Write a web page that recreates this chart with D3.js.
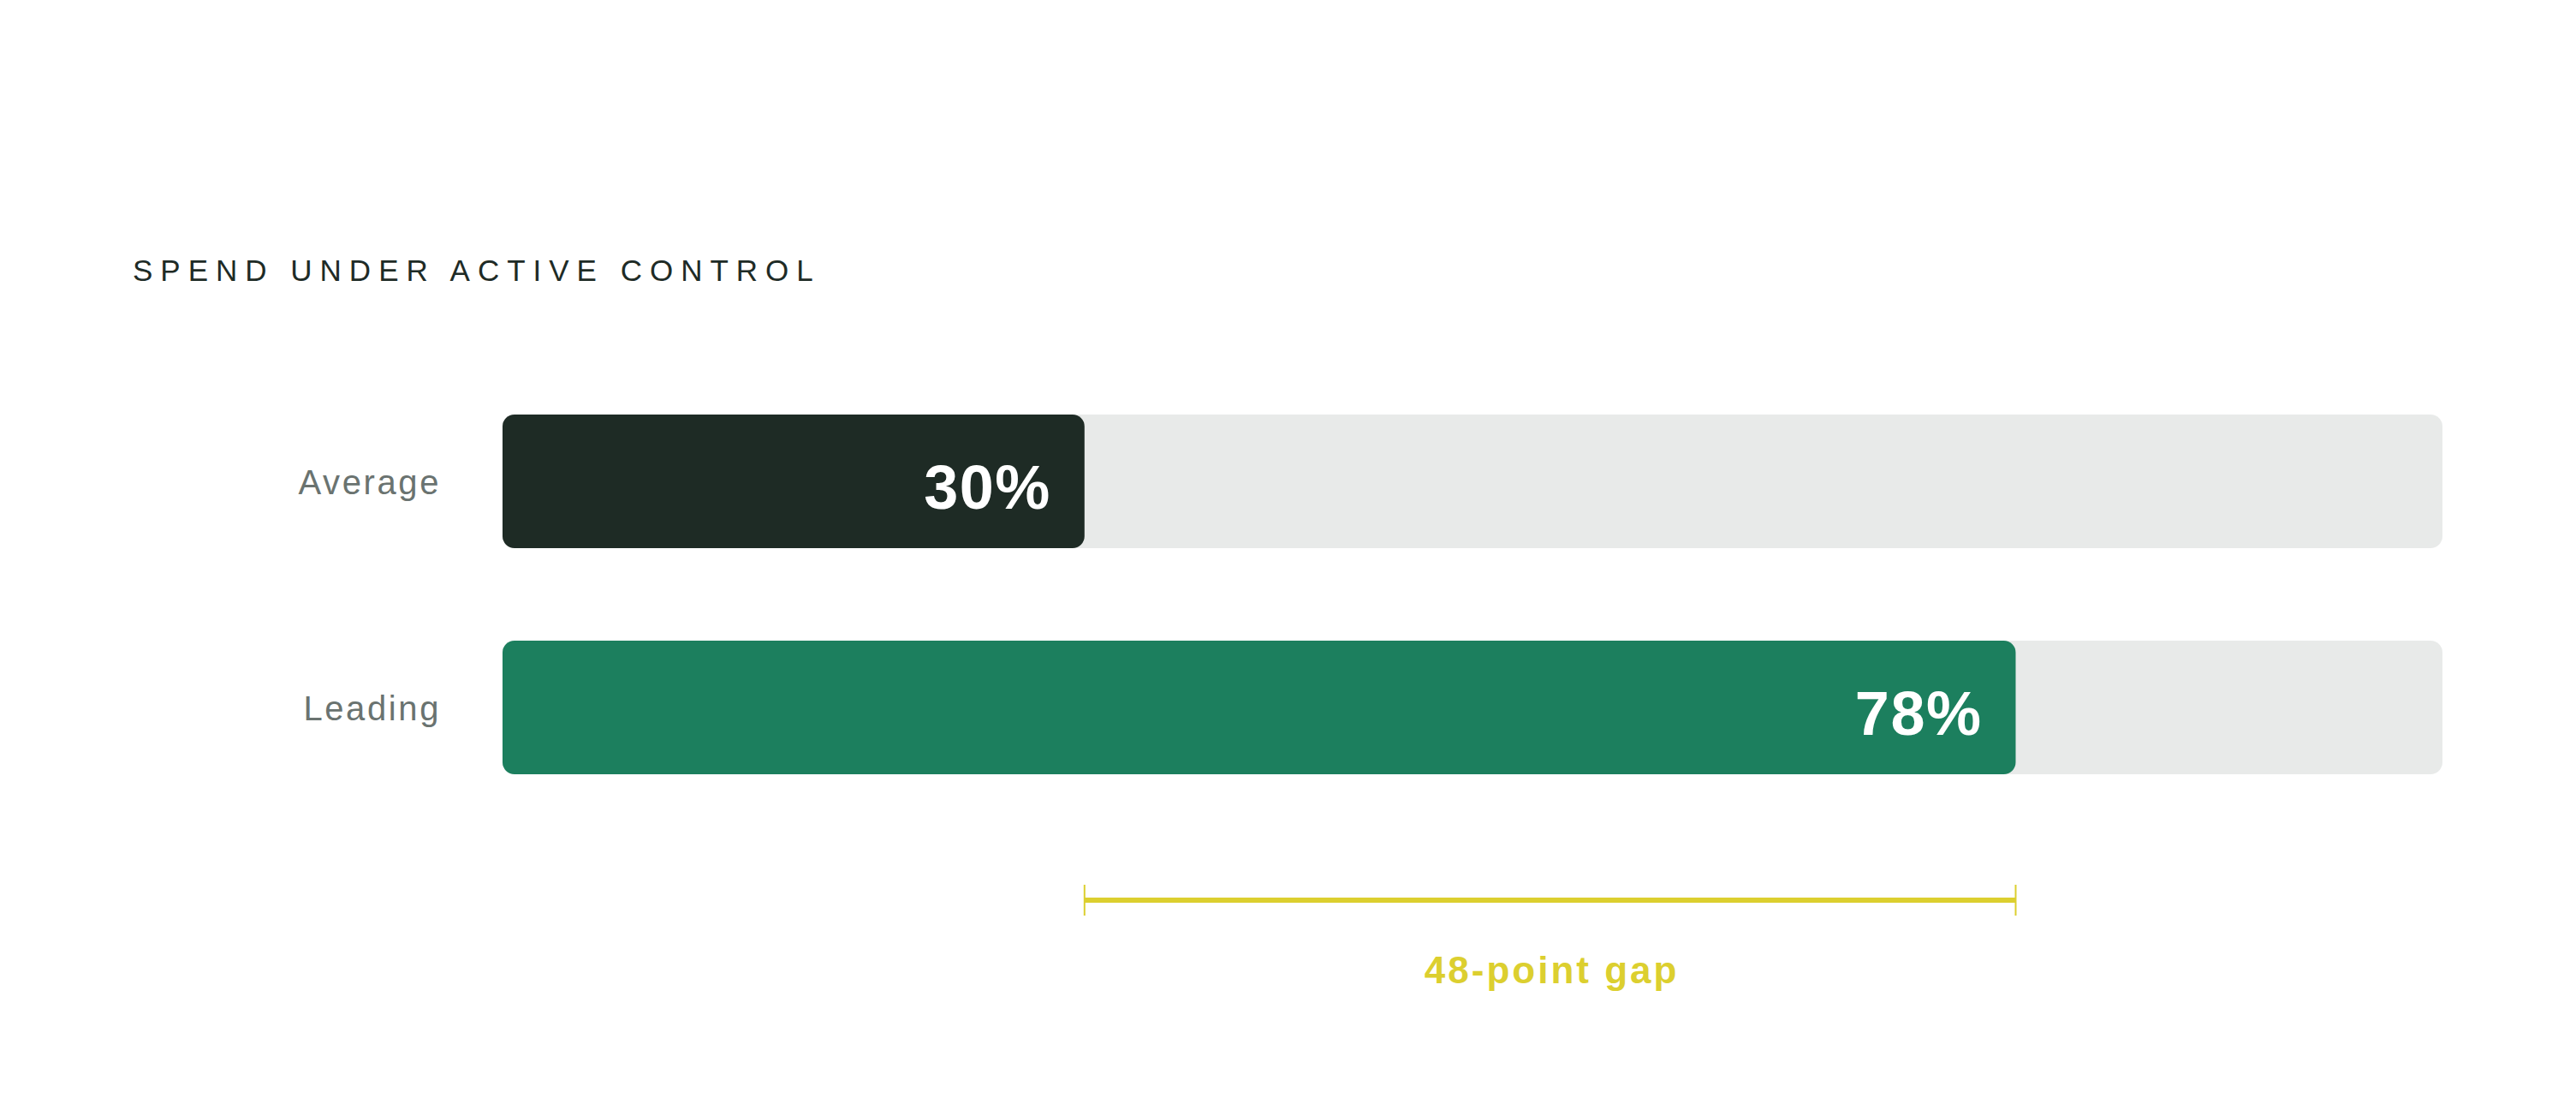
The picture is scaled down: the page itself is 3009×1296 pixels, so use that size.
<!DOCTYPE html>
<html>
<head>
<meta charset="utf-8">
<script src="https://cdn.jsdelivr.net/npm/d3@7"></script>
<style>
  html, body { margin: 0; padding: 0; background: #ffffff; }
  svg { display: block; font-family: "Liberation Sans", Arial, sans-serif; }
</style>
</head>
<body>
<div id="chart"></div>
<script>
// data
var categories = ["Average", "Leading"];
var shares = [30, 78];
var barColors = ["#1e2b25", "#1c7f5e"];
var gapLabel = "48-point gap";
var chartTitle = "SPEND UNDER ACTIVE CONTROL";

var w = 3009, h = 1296;

var svg = d3.select("#chart")
    .append("svg")
    .attr("width", w)
    .attr("height", h);

var x = d3.scaleLinear()
    .domain([0, 100])
    .range([587, 2853]);

var y = d3.scaleBand()
    .domain(categories)
    .range([484, 904])
    .paddingInner(0.409)
    .paddingOuter(0);

var rows = categories.map((c, i) => ({ name: c, value: shares[i], color: barColors[i] }));

// title
svg.append("text")
    .attr("x", 155)
    .attr("y", 328)
    .attr("font-size", "35px")
    .attr("letter-spacing", "9px")
    .attr("fill", "#1e2b26")
    .text(chartTitle);

// track behind each bar
svg.selectAll("rect.track")
    .data(rows)
    .enter()
    .append("rect")
    .attr("class", "track")
    .attr("x", x(0))
    .attr("y", (d) => y(d.name))
    .attr("width", x(100) - x(0))
    .attr("height", y.bandwidth())
    .attr("rx", 14)
    .attr("fill", "#e8eae9");

// value bars
svg.selectAll("rect.bar")
    .data(rows)
    .enter()
    .append("rect")
    .attr("class", "bar")
    .attr("x", x(0))
    .attr("y", (d) => y(d.name))
    .attr("width", (d) => x(d.value) - x(0))
    .attr("height", y.bandwidth())
    .attr("rx", 14)
    .attr("fill", (d) => d.color);

// category labels
svg.selectAll("text.cat")
    .data(rows)
    .enter()
    .append("text")
    .attr("class", "cat")
    .attr("x", 515)
    .attr("y", (d) => y(d.name) + y.bandwidth() / 2 + 15)
    .attr("text-anchor", "end")
    .attr("font-size", "40px")
    .attr("letter-spacing", "2.6px")
    .attr("fill", "#6a7370")
    .text((d) => d.name);

// value labels inside the bars
svg.selectAll("text.val")
    .data(rows)
    .enter()
    .append("text")
    .attr("class", "val")
    .attr("x", (d) => x(d.value) - 39)
    .attr("y", (d) => y(d.name) + y.bandwidth() / 2 + 32)
    .attr("text-anchor", "end")
    .attr("font-size", "72px")
    .attr("font-weight", "bold")
    .attr("letter-spacing", "1.5px")
    .attr("fill", "#ffffff")
    .text((d) => d.value + "%");

// gap bracket between the two bar ends
var gy = 1051;
var g = svg.append("g").attr("class", "gap");
var x0 = x(shares[0]), x1 = x(shares[1]);

g.append("line")
    .attr("x1", x0).attr("x2", x1)
    .attr("y1", gy).attr("y2", gy)
    .attr("stroke", "#dccf2f")
    .attr("stroke-width", 6);

g.selectAll("line.tick")
    .data([x0, x1])
    .enter()
    .append("line")
    .attr("class", "tick")
    .attr("x1", (d) => d).attr("x2", (d) => d)
    .attr("y1", gy - 18).attr("y2", gy + 18)
    .attr("stroke", "#dccf2f")
    .attr("stroke-width", 2);

g.append("text")
    .attr("x", (x0 + x1) / 2 + 2)
    .attr("y", 1148)
    .attr("text-anchor", "middle")
    .attr("font-size", "44px")
    .attr("font-weight", "bold")
    .attr("letter-spacing", "3px")
    .attr("fill", "#dccf2f")
    .text(gapLabel);
</script>
</body>
</html>
